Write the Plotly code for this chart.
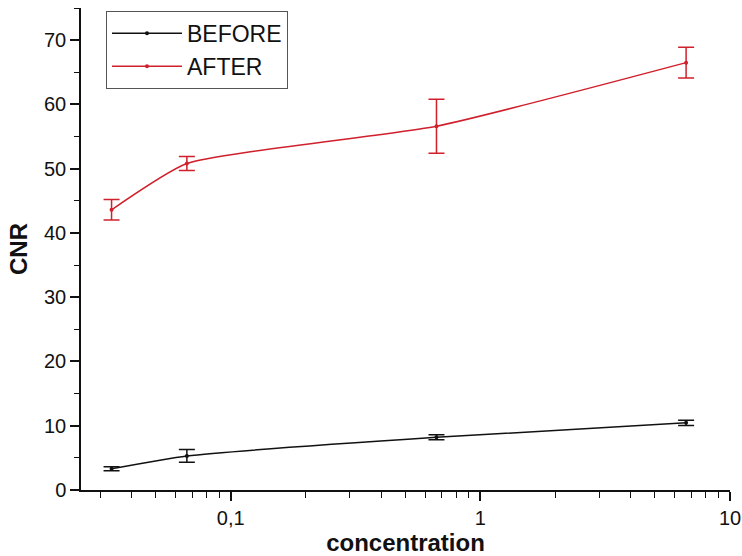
import plotly.graph_objects as go

# concentration values (log scale)
concentration = [0.0333, 0.0667, 0.667, 6.67]

# CNR before / after, with standard deviations
cnr_before = [3.3, 5.3, 8.2, 10.45]
err_before = [0.3, 1.0, 0.4, 0.4]
cnr_after = [43.6, 50.8, 56.6, 66.5]
err_after = [1.6, 1.1, 4.2, 2.4]

x_tickvals = [0.1, 1, 10]
x_ticktext = ["0,1", "1", "10"]
y_tickvals = [0, 10, 20, 30, 40, 50, 60, 70]

black = "#111111"
red = "#d0202c"
FONT = "Liberation Sans, Arial, sans-serif"

minor_x = [m * 10 ** e for e in (-2, -1, 0) for m in range(2, 10)]
minor_x = [v for v in minor_x if 0.0251 < v < 10]

fig = go.Figure()
for name, ys, errs, col in (("BEFORE", cnr_before, err_before, black),
                            ("AFTER", cnr_after, err_after, red)):
    fig.add_trace(go.Scatter(
        x=concentration, y=ys, name=name, mode="lines+markers",
        line=dict(color=col, width=1.5, shape="spline", smoothing=0.5),
        marker=dict(color=col, size=4),
        error_y=dict(type="data", array=errs, color=col, thickness=1.5, width=8),
    ))

axis_font = dict(family=FONT, size=20, color="#111111")

fig.update_layout(
    width=742, height=556,
    margin=dict(l=81, r=12, t=8, b=66),
    paper_bgcolor="white", plot_bgcolor="white",
    font=dict(family=FONT, color="#111111"),
    showlegend=True,
    legend=dict(
        x=0.0385, y=0.994, xanchor="left", yanchor="top",
        bordercolor="#555555", borderwidth=1, bgcolor="white",
        font=dict(size=23, family=FONT),
        tracegroupgap=0, itemwidth=70,
    ),
    xaxis=dict(
        type="log", range=[-1.6, 1.0], automargin=False,
        tickvals=x_tickvals, ticktext=x_ticktext,
        ticks="outside", ticklen=9, tickwidth=1.5, tickcolor="#111111",
        showline=True, linecolor="#111111", linewidth=1.5,
        showgrid=False, zeroline=False, tickfont=axis_font,
        minor=dict(tickvals=minor_x, ticks="outside", ticklen=6, tickwidth=1.2,
                   tickcolor="#111111", showgrid=False),
        title=dict(text="<b>concentration</b>", font=dict(size=24), standoff=12),
    ),
    yaxis=dict(
        range=[0, 75], tickvals=y_tickvals, automargin=False,
        ticks="outside", ticklen=9, tickwidth=1.5, tickcolor="#111111",
        showline=True, linecolor="#111111", linewidth=1.5,
        showgrid=False, zeroline=False, tickfont=axis_font,
        minor=dict(tickvals=[5, 15, 25, 35, 45, 55, 65, 75], ticks="outside", ticklen=5,
                   tickwidth=1.2, tickcolor="#111111", showgrid=False),
        title=dict(text="<b>CNR</b>", font=dict(size=24), standoff=10),
    ),
)

fig.write_html("out.html")
